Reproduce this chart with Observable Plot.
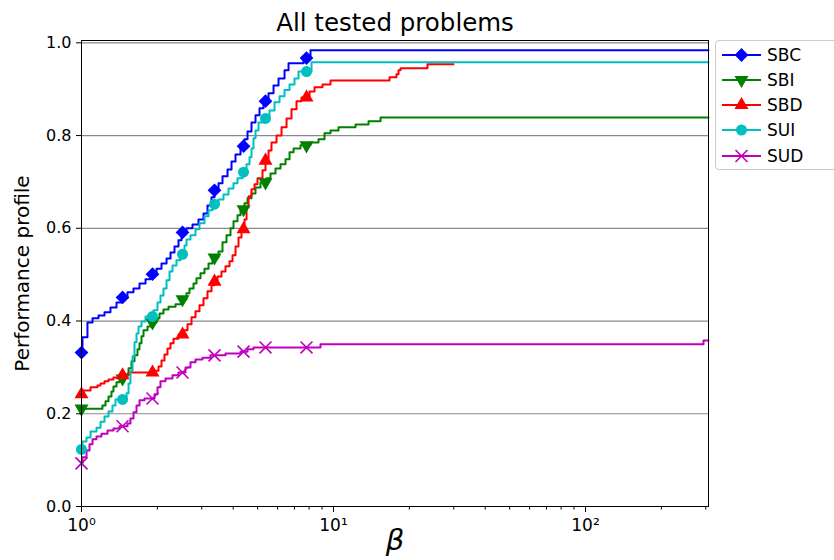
<!DOCTYPE html>
<html>
<head>
<meta charset="utf-8">
<script src="https://cdn.jsdelivr.net/npm/d3@7"></script>
<script src="https://cdn.jsdelivr.net/npm/@observablehq/plot@0.6"></script>
<style>
  body { margin: 0; background: #fff; font-family: "DejaVu Sans", sans-serif; }
  #wrap { position: relative; width: 834px; height: 560px; overflow: hidden; }
  #legend { position: absolute; left: 715px; top: 40px; width: 130px; height: 130px;
            border: 1px solid #cccccc; border-radius: 4px; background: rgba(255,255,255,0.85);
            box-sizing: border-box; }
  .row { position: absolute; left: 0; height: 24px; display: flex; align-items: center; }
  .row span { font-size: 17px; margin-left: 5px; color: #000; }
</style>
</head>
<body>
<div id="wrap"><div id="chart"></div><div id="legend"></div></div>
<script>
// Solvers compared in the performance profile
const series = ["SBC", "SBI", "SBD", "SUI", "SUD"];
const colors = ["#0000ff", "#008000", "#ff0000", "#00bfbf", "#bf00bf"];

// Step profiles: ratio of problems solved within a factor beta of the best solver
const sbcBeta = [1, 1.009, 1.056, 1.106, 1.168, 1.234, 1.303, 1.377, 1.441, 1.522, 1.608, 1.699, 1.795, 1.879, 1.985, 2.077, 2.175, 2.255, 2.339, 2.426, 2.494, 2.610, 2.757, 2.912, 3.049, 3.162, 3.280, 3.371, 3.497, 3.627, 3.797, 3.938, 4.084, 4.276, 4.435, 4.558, 4.727, 4.903, 5.085, 5.275, 5.523, 5.781, 6.051, 6.392, 6.630, 7.603, 8.104, 307.6];
const sbcRatio = [0.332, 0.365, 0.397, 0.406, 0.412, 0.419, 0.429, 0.440, 0.451, 0.462, 0.470, 0.481, 0.490, 0.501, 0.513, 0.524, 0.535, 0.548, 0.561, 0.574, 0.591, 0.600, 0.608, 0.619, 0.632, 0.649, 0.667, 0.682, 0.697, 0.712, 0.727, 0.744, 0.759, 0.777, 0.792, 0.809, 0.828, 0.844, 0.859, 0.874, 0.891, 0.908, 0.923, 0.941, 0.956, 0.967, 0.984, 0.984];

const sbiBeta = [1, 1.211, 1.245, 1.280, 1.315, 1.339, 1.377, 1.415, 1.495, 1.537, 1.579, 1.623, 1.668, 1.699, 1.730, 1.762, 1.828, 1.913, 1.985, 2.040, 2.115, 2.214, 2.361, 2.517, 2.610, 2.683, 2.783, 2.860, 2.966, 3.077, 3.192, 3.311, 3.497, 3.627, 3.762, 3.902, 4.010, 4.159, 4.276, 4.435, 4.558, 4.727, 4.903, 5.132, 5.421, 5.623, 5.886, 6.161, 6.449, 6.691, 6.940, 7.396, 8.104, 8.720, 9.211, 9.73, 10.47, 12.23, 13.77, 15.37, 307.6];
const sbiRatio = [0.211, 0.218, 0.227, 0.237, 0.248, 0.259, 0.268, 0.276, 0.285, 0.298, 0.313, 0.326, 0.339, 0.352, 0.367, 0.380, 0.388, 0.397, 0.406, 0.416, 0.425, 0.431, 0.436, 0.447, 0.460, 0.470, 0.481, 0.492, 0.503, 0.513, 0.524, 0.537, 0.550, 0.570, 0.585, 0.600, 0.615, 0.628, 0.641, 0.654, 0.665, 0.675, 0.688, 0.699, 0.708, 0.718, 0.729, 0.738, 0.749, 0.764, 0.772, 0.779, 0.785, 0.792, 0.805, 0.811, 0.818, 0.824, 0.831, 0.839, 0.839];

const sbdBeta = [1, 1.009, 1.086, 1.157, 1.190, 1.234, 1.280, 1.339, 1.402, 1.537, 1.966, 2.021, 2.077, 2.135, 2.194, 2.255, 2.318, 2.426, 2.540, 2.634, 2.733, 2.834, 2.939, 3.049, 3.162, 3.280, 3.371, 3.465, 3.594, 3.728, 3.867, 3.974, 4.084, 4.198, 4.314, 4.435, 4.517, 4.600, 4.727, 4.859, 4.994, 5.227, 5.372, 5.523, 5.675, 5.941, 6.220, 6.511, 6.812, 7.132, 7.464, 8.031, 8.407, 9.045, 9.73, 16.68, 17.78, 18.11, 18.45, 23.60, 29.93];
const sbdRatio = [0.242, 0.250, 0.257, 0.261, 0.265, 0.270, 0.274, 0.278, 0.283, 0.289, 0.293, 0.302, 0.315, 0.328, 0.341, 0.352, 0.362, 0.371, 0.380, 0.393, 0.408, 0.421, 0.434, 0.449, 0.464, 0.477, 0.485, 0.496, 0.507, 0.518, 0.529, 0.542, 0.561, 0.580, 0.598, 0.619, 0.645, 0.669, 0.684, 0.695, 0.708, 0.725, 0.746, 0.768, 0.785, 0.800, 0.818, 0.837, 0.857, 0.874, 0.882, 0.895, 0.904, 0.910, 0.919, 0.926, 0.932, 0.941, 0.945, 0.954, 0.954];

const suiBeta = [1, 1.009, 1.047, 1.086, 1.147, 1.190, 1.234, 1.280, 1.327, 1.364, 1.509, 1.537, 1.564, 1.594, 1.623, 1.653, 1.684, 1.730, 1.795, 1.931, 2.003, 2.058, 2.115, 2.175, 2.235, 2.297, 2.382, 2.471, 2.563, 2.610, 2.707, 2.834, 2.939, 3.077, 3.192, 3.311, 3.497, 3.660, 3.831, 4.010, 4.159, 4.354, 4.517, 4.642, 4.727, 4.814, 4.903, 5.039, 5.323, 5.572, 5.833, 6.107, 6.392, 6.691, 7.002, 7.263, 8.180, 307.6];
const suiRatio = [0.123, 0.140, 0.149, 0.162, 0.170, 0.183, 0.194, 0.205, 0.218, 0.231, 0.244, 0.265, 0.293, 0.324, 0.354, 0.373, 0.388, 0.399, 0.410, 0.423, 0.440, 0.455, 0.470, 0.488, 0.507, 0.520, 0.531, 0.544, 0.563, 0.576, 0.585, 0.598, 0.611, 0.626, 0.639, 0.652, 0.662, 0.673, 0.686, 0.697, 0.708, 0.721, 0.738, 0.753, 0.772, 0.794, 0.811, 0.828, 0.837, 0.854, 0.872, 0.885, 0.898, 0.910, 0.923, 0.938, 0.958, 0.958];

const sudBeta = [1, 1.009, 1.047, 1.076, 1.106, 1.147, 1.200, 1.268, 1.339, 1.415, 1.522, 1.564, 1.608, 1.653, 1.699, 1.778, 1.949, 2.003, 2.058, 2.154, 2.297, 2.426, 2.586, 2.707, 2.834, 3.021, 3.250, 3.728, 4.276, 4.558, 4.814, 8.879, 293.9, 307.6];
const sudRatio = [0.093, 0.106, 0.121, 0.134, 0.145, 0.151, 0.157, 0.164, 0.168, 0.173, 0.179, 0.190, 0.203, 0.218, 0.229, 0.233, 0.242, 0.257, 0.270, 0.276, 0.283, 0.289, 0.300, 0.311, 0.317, 0.321, 0.326, 0.330, 0.334, 0.339, 0.343, 0.350, 0.358, 0.358];

// Beta values where the profile markers sit
const markerBeta = [1, 1.455, 1.913, 2.517, 3.371, 4.395, 5.372, 7.813];

// Axis ticks
const yTicks = [0, 0.2, 0.4, 0.6, 0.8, 1.0];
const xMajor = [1, 10, 100];
const xMajorLabels = ["10⁰", "10¹", "10²"];
const xMinor = [2, 3, 4, 5, 6, 7, 8, 9, 20, 30, 40, 50, 60, 70, 80, 90, 200, 300];

const betas = [sbcBeta, sbiBeta, sbdBeta, suiBeta, sudBeta];
const ratios = [sbcRatio, sbiRatio, sbdRatio, suiRatio, sudRatio];

const rows = [];
series.forEach((s, i) => betas[i].forEach((b, j) => rows.push({series: s, beta: b, ratio: ratios[i][j]})));

// marker points
const markerRows = series.map((s, i) => markerBeta.map(m => {
  const k = d3.bisectRight(betas[i], m) - 1;
  return {series: s, beta: m, ratio: ratios[i][k]};
}));

const symbols = [
  {symbol: "diamond2", r: 6.2, rotate: 0, filled: true},
  {symbol: "triangle", r: 5.2, rotate: 180, filled: true},
  {symbol: "triangle", r: 5.2, rotate: 0, filled: true},
  {symbol: "circle", r: 5.5, rotate: 0, filled: true},
  {symbol: "times", r: 5.5, rotate: 0, filled: false}
];

const dotMarks = series.map((s, i) => Plot.dot(markerRows[i], {
  x: "beta", y: "ratio",
  symbol: () => symbols[i].symbol,
  r: symbols[i].r,
  rotate: symbols[i].rotate,
  fill: symbols[i].filled ? colors[i] : "none",
  stroke: symbols[i].filled ? "none" : colors[i],
  strokeWidth: 1.6
}));

const chart = Plot.plot({
  width: 834,
  height: 560,
  marginLeft: 81,
  marginRight: 126,
  marginTop: 40,
  marginBottom: 54,
  style: {fontFamily: "DejaVu Sans, sans-serif", fontSize: "16px", color: "#000", background: "#fff"},
  x: {type: "log", domain: [1, 307.6], label: null},
  y: {domain: [0, 1.005], label: null},
  color: {domain: series, range: colors},
  symbol: {domain: ["diamond2", "triangle", "circle", "times"], range: ["diamond2", "triangle", "circle", "times"]},
  marks: [
    Plot.gridY(yTicks, {stroke: "#8a8a8a", strokeOpacity: 1, strokeWidth: 1.2}),
    Plot.line(rows, {x: "beta", y: "ratio", z: "series", stroke: "series", curve: "step-after", strokeWidth: 2}),
    ...dotMarks,
    Plot.frame({stroke: "#000", strokeWidth: 1}),
    Plot.axisY(yTicks, {tickSize: 5, tickPadding: 5, tickFormat: d => d.toFixed(1), fontSize: 16, label: null}),
    Plot.axisX(xMinor, {tickSize: 3.5, tickFormat: () => "", label: null}),
    Plot.axisX(xMajor, {tickSize: 6, tickPadding: 6, tickFormat: d => xMajorLabels[xMajor.indexOf(d)], fontSize: 17, label: null}),
    Plot.text(["All tested problems"], {frameAnchor: "top", dy: -27, fontSize: 24.5, text: d => d}),
    Plot.text(["Performance profile"], {frameAnchor: "left", textAnchor: "middle", dx: -59, rotate: -90, fontSize: 20, text: d => d}),
    Plot.text(["β"], {frameAnchor: "bottom", dy: 43, fontSize: 29, fontStyle: "italic", text: d => d})
  ]
});
document.getElementById("chart").appendChild(chart);

// Legend: line sample with its marker, then the solver name
const legend = d3.select("#legend");
const rowCenters = [14, 39, 64, 89, 115];
const symbolTypes = {diamond2: d3.symbolDiamond2, triangle: d3.symbolTriangle, circle: d3.symbolCircle, times: d3.symbolTimes};
series.forEach((s, i) => {
  const row = legend.append("div").attr("class", "row").style("top", (rowCenters[i] - 12) + "px");
  const svg = row.append("svg").attr("width", 46).attr("height", 24);
  svg.append("line").attr("x1", 6).attr("x2", 45).attr("y1", 12).attr("y2", 12)
    .attr("stroke", colors[i]).attr("stroke-width", 2);
  const sym = symbols[i];
  svg.append("path")
    .attr("d", d3.symbol(symbolTypes[sym.symbol], Math.PI * sym.r * sym.r)())
    .attr("transform", `translate(25.5,12) rotate(${sym.rotate})`)
    .attr("fill", sym.filled ? colors[i] : "none")
    .attr("stroke", sym.filled ? "none" : colors[i])
    .attr("stroke-width", 1.6);
  row.append("span").text(s);
});
</script>
</body>
</html>
